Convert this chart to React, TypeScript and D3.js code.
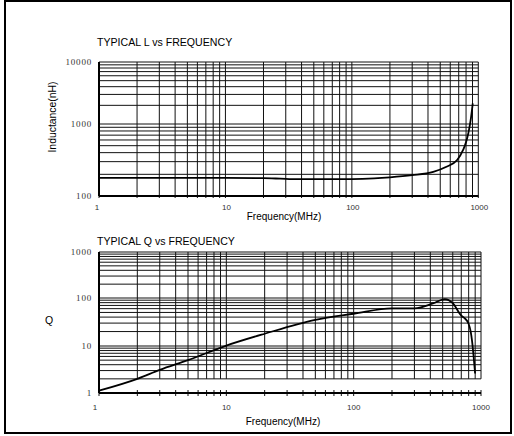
import React from "react";
import * as d3 from "d3";

const FREQ_TICKS = [1, 10, 100, 1000];
const L_Y_TICKS = [100, 1000, 10000];
const Q_Y_TICKS = [1, 10, 100, 1000];

const L_FREQ = [1, 5, 10, 20, 25, 32, 50, 100, 150, 200, 300, 440, 560, 680, 760, 800, 836, 870, 904];
const L_VAL = [178, 178, 178, 177.5, 175, 172, 171, 172, 176, 182, 195, 217, 255, 316, 440, 560, 760, 1150, 2150];

const Q_FREQ = [1, 2, 3, 5, 10, 20, 50, 100, 200, 300, 420, 520, 600, 700, 750, 795, 830, 850, 875, 899];
const Q_VAL = [1.12, 2.0, 3.1, 5.0, 10.2, 18, 35, 47, 61, 61, 77, 95, 78, 43, 37, 30, 20, 13, 6, 2.6];

function logGrid(lo: number, hi: number): number[] {
  const out: number[] = [];
  for (let d = lo; d < hi; d *= 10) {
    for (let m = 1; m < 10; m++) out.push(d * m);
  }
  out.push(hi);
  return out;
}

const sans = "'Liberation Sans', Arial, sans-serif";
const serif = "'Liberation Serif', 'Times New Roman', serif";

export default function App() {
  // Top chart scales
  const xT = d3.scaleLog().domain([1, 1000]).range([99, 478.3]);
  const yT = d3.scaleLog().domain([100, 1000, 10000]).range([196, 124, 62]);
  // Bottom chart scales
  const xB = d3.scaleLog().domain([1, 1000]).range([99, 481]);
  const yB = d3.scaleLog().domain([1, 10, 100, 1000]).range([393, 346, 298, 252]);

  const lineT = d3
    .line<number>()
    .x((_, i) => xT(L_FREQ[i]))
    .y((d) => yT(d))
    .curve(d3.curveMonotoneX);
  const lineB = d3
    .line<number>()
    .x((_, i) => xB(Q_FREQ[i]))
    .y((d) => yB(d))
    .curve(d3.curveMonotoneX);

  const fGrid = logGrid(1, 1000);
  const lGrid = logGrid(100, 10000);
  const qGrid = logGrid(1, 1000).filter((v) => v >= 2);

  const gridColor = "#111";

  return (
    <svg
      width={514}
      height={436}
      style={{ position: "absolute", left: 0, top: 0, background: "#fff" }}
    >
      <rect x={0} y={0} width={514} height={436} fill="#fff" />
      <rect x={5} y={1} width={506} height={432} fill="none" stroke="#000" strokeWidth={2} />

      {/* ---------- Top chart ---------- */}
      <text x={97} y={46} fontFamily={sans} fontSize={10.6} fill="#000">
        TYPICAL L vs FREQUENCY
      </text>
      <g>
        {lGrid.map((v) => (
          <line key={"lh" + v} x1={xT(1)} x2={xT(1000)} y1={yT(v)} y2={yT(v)} stroke={gridColor} strokeWidth={1} />
        ))}
        {fGrid.map((f) => (
          <line key={"lv" + f} x1={xT(f)} x2={xT(f)} y1={yT(10000)} y2={yT(100) + 2} stroke={gridColor} strokeWidth={1} />
        ))}
        <line x1={xT(1)} x2={xT(1)} y1={yT(10000)} y2={yT(100)} stroke="#000" strokeWidth={2} />
        <line x1={xT(1)} x2={xT(1000)} y1={yT(100)} y2={yT(100)} stroke="#000" strokeWidth={2} />
        <path d={lineT(L_VAL) || ""} fill="none" stroke="#000" strokeWidth={1.8} />
        {L_Y_TICKS.map((v) => (
          <text key={"lyt" + v} x={92} y={yT(v)} dy="0.35em" textAnchor="end" fontFamily={serif} fontSize={9} letterSpacing={0.8} fill="#333">
            {v}
          </text>
        ))}
        {FREQ_TICKS.map((f) => (
          <text key={"lxt" + f} x={xT(f) + (f === 1 ? -2 : 1)} y={210} textAnchor="middle" fontFamily={sans} fontSize={8} fill="#333">
            {f}
          </text>
        ))}
        <text x={284} y={220} textAnchor="middle" fontFamily={sans} fontSize={10} fill="#000">
          Frequency(MHz)
        </text>
        <text
          transform={`translate(56,117) rotate(-90)`}
          textAnchor="middle"
          fontFamily={sans}
          fontSize={10.4}
          fill="#000"
        >
          Inductance(nH)
        </text>
      </g>

      {/* ---------- Bottom chart ---------- */}
      <text x={97} y={245} fontFamily={sans} fontSize={10.6} fill="#000">
        TYPICAL Q vs FREQUENCY
      </text>
      <g>
        {qGrid.map((v) => (
          <line key={"qh" + v} x1={xB(1)} x2={xB(1000)} y1={yB(v)} y2={yB(v)} stroke={gridColor} strokeWidth={1} />
        ))}
        {fGrid.map((f) => (
          <line key={"qv" + f} x1={xB(f)} x2={xB(f)} y1={yB(1000)} y2={yB(2)} stroke={gridColor} strokeWidth={1} />
        ))}
        {fGrid.map((f) => (
          <line key={"qt" + f} x1={xB(f)} x2={xB(f)} y1={yB(1) - 3} y2={yB(1) + 3} stroke={gridColor} strokeWidth={1} />
        ))}
        <line x1={xB(1)} x2={xB(1)} y1={yB(1000)} y2={yB(1)} stroke="#000" strokeWidth={2} />
        <line x1={xB(1)} x2={xB(1000)} y1={yB(1)} y2={yB(1)} stroke="#000" strokeWidth={2} />
        <path d={lineB(Q_VAL) || ""} fill="none" stroke="#000" strokeWidth={1.8} />
        {Q_Y_TICKS.map((v) => (
          <text key={"qyt" + v} x={92} y={yB(v)} dy="0.35em" textAnchor="end" fontFamily={serif} fontSize={9} letterSpacing={0.8} fill="#333">
            {v}
          </text>
        ))}
        {FREQ_TICKS.map((f) => (
          <text key={"qxt" + f} x={xB(f) + (f === 1 ? -4 : 0)} y={410} textAnchor="middle" fontFamily={sans} fontSize={8} fill="#333">
            {f}
          </text>
        ))}
        <text x={283} y={425} textAnchor="middle" fontFamily={sans} fontSize={10} fill="#000">
          Frequency(MHz)
        </text>
        <text x={49} y={320} dy="0.35em" textAnchor="middle" fontFamily={sans} fontSize={10.5} fill="#000">
          Q
        </text>
      </g>
    </svg>
  );
}
